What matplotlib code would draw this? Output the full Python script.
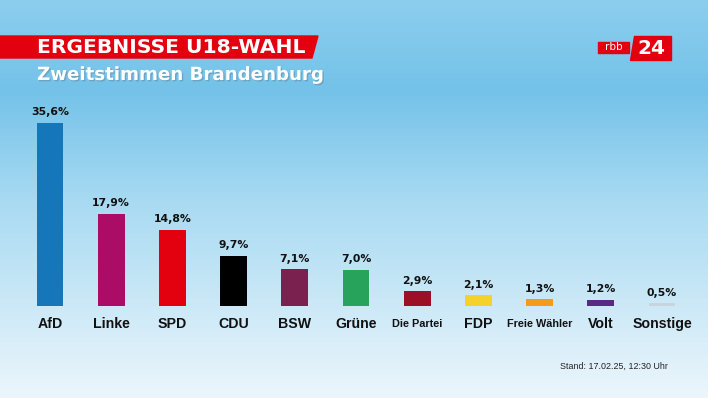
import numpy as np
import matplotlib
matplotlib.use("Agg")
import matplotlib.pyplot as plt
from matplotlib.patches import Polygon, Rectangle
import matplotlib.patheffects as pe

# data
parties = ["AfD", "Linke", "SPD", "CDU", "BSW", "Grüne", "Die Partei", "FDP", "Freie Wähler", "Volt", "Sonstige"]
shares = [35.6, 17.9, 14.8, 9.7, 7.1, 7.0, 2.9, 2.1, 1.3, 1.2, 0.5]
value_labels = ["35,6%", "17,9%", "14,8%", "9,7%", "7,1%", "7,0%", "2,9%", "2,1%", "1,3%", "1,2%", "0,5%"]
colors = ["#1576b9", "#ab0c66", "#e3000f", "#000000", "#7a2150", "#27a35c",
          "#9c1026", "#f4d22a", "#f59a1c", "#572a84", "#c9d5de"]
small_labels = {"Die Partei", "Freie Wähler"}

title = "ERGEBNISSE U18-WAHL"
subtitle = "Zweitstimmen Brandenburg"
stand = "Stand: 17.02.25, 12:30 Uhr"

W, H = 708, 398
fig = plt.figure(figsize=(W / 100, H / 100), dpi=100)
plt.rcParams["font.family"] = ["Liberation Sans", "DejaVu Sans"]
WIDE = ["DejaVu Sans"]

# background in pixel coordinates
bg = fig.add_axes([0, 0, 1, 1])
bg.set_xlim(0, W)
bg.set_ylim(H, 0)
bg.axis("off")
ys = np.arange(H)
stops_y = [0, 90, 200, 398]
stops_c = np.array([[140, 206, 238], [116, 194, 233], [168, 218, 242], [236, 246, 252]]) / 255
grad = np.stack([np.interp(ys, stops_y, stops_c[:, k]) for k in range(3)], axis=-1)
grad = np.repeat(grad[:, None, :], 2, axis=1)
bg.imshow(grad, extent=[0, W, H, 0], aspect="auto", zorder=0)

# red title banner
bg.add_patch(Polygon([[0, 36], [318, 36], [312, 58], [0, 58]], closed=True, color="#e3000f", zorder=1))
bg.text(37, 47.5, title, color="white", fontsize=14.6, fontweight="bold", family=WIDE,
        va="center", ha="left", zorder=2)
bg.text(37, 75, subtitle, color="white", fontsize=13.1, fontweight="bold", family=WIDE,
        va="center", ha="left", zorder=2,
        path_effects=[pe.withSimplePatchShadow(offset=(1, -1), alpha=0.25)])

# rbb24 logo
bg.add_patch(Rectangle((598, 42), 31, 11, color="#e3000f", zorder=1))
bg.text(613.5, 47.3, "rbb", color="white", fontsize=7.5, family=WIDE, va="center", ha="center", zorder=2)
bg.add_patch(Polygon([[634, 36], [671, 36], [671, 60], [630, 60]], closed=True, color="#e3000f", zorder=1))
bg.text(651, 48.5, "24", color="white", fontsize=14.5, fontweight="bold", family=WIDE,
        va="center", ha="center", zorder=2)

bg.text(560, 366, stand, color="#222222", fontsize=6.4, va="center", ha="left")

# bar axes
bottom_px, top_px = 306, 100
left_px = 50 - 30.6
width_px = 11 * 61.2
ax = fig.add_axes([left_px / W, (H - bottom_px) / H, width_px / W, (bottom_px - top_px) / H])
ax.patch.set_alpha(0)
x = np.arange(len(parties))
ax.bar(x, shares, width=0.44, color=colors, zorder=3)
ax.set_xlim(-0.5, len(parties) - 0.5)
ax.set_ylim(0, 40)
ax.axis("off")

for xi, v, lab, name in zip(x, shares, value_labels, parties):
    ax.annotate(lab, (xi, v), xytext=(0, 4), textcoords="offset points", family=WIDE,
                ha="center", va="bottom", fontsize=7.8, fontweight="bold", color="#111111")
    fs = 7.8 if name in small_labels else 10.2
    ax.annotate(name, (xi, 0), xytext=(0, -13), textcoords="offset points",
                ha="center", va="center", fontsize=fs, fontweight="bold", color="#111111",
                annotation_clip=False)

fig.savefig("out.png", dpi=100)
